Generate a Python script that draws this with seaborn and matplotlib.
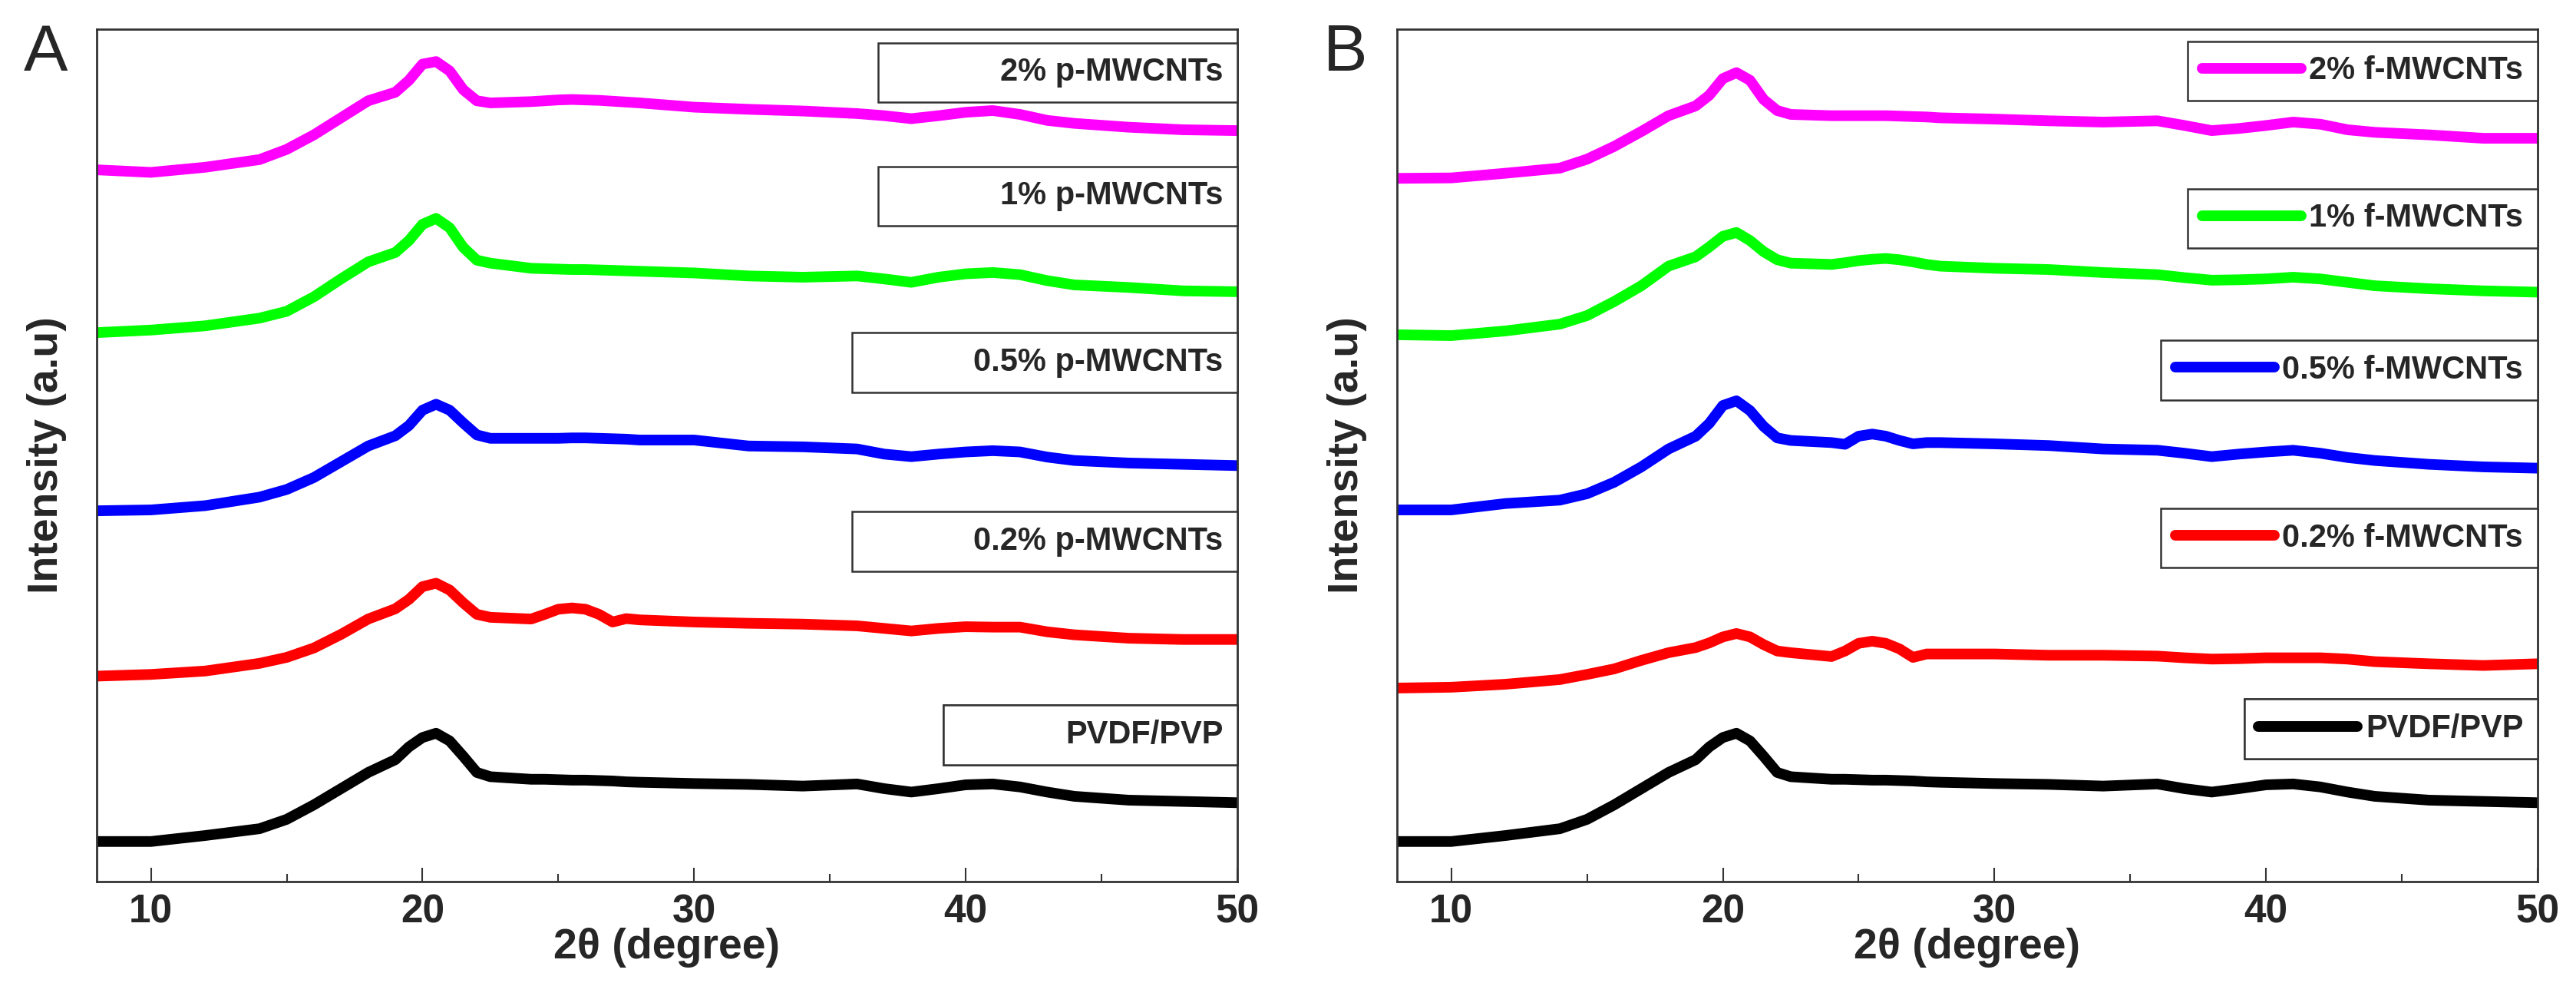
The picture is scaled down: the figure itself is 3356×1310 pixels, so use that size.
import matplotlib
matplotlib.use("Agg")
import matplotlib.pyplot as plt
import matplotlib.colors as mcolors
from matplotlib.ticker import MultipleLocator
import seaborn as sns
import pandas as pd

# 2theta grid shared by all scans
THETA = [8, 10, 12, 14, 15, 16, 17, 18, 19, 19.5, 20, 20.5, 21, 21.5, 22, 22.5,
         24, 24.5, 25, 25.5, 26, 26.5, 27, 27.5, 28, 30, 32, 34, 36, 37, 38, 39,
         40, 41, 42, 43, 44, 46, 48, 50]

# stacked intensities (a.u.)
PVDF_PVP = [4.7, 4.7, 5.4, 6.2, 7.3, 9.0, 10.9, 12.8, 14.3, 15.8, 16.9, 17.4, 16.5, 14.7, 12.8, 12.3,
            12.0, 12.0, 11.95, 11.9, 11.9, 11.85, 11.8, 11.7, 11.65, 11.5, 11.4, 11.2, 11.45, 10.9, 10.5, 10.9,
            11.35, 11.45, 11.1, 10.5, 10.0, 9.55, 9.4, 9.25]

P_02 = [24.1, 24.3, 24.7, 25.6, 26.3, 27.4, 29.0, 30.8, 32.0, 33.1, 34.6, 35.0, 34.2, 32.7, 31.35, 31.0,
        30.8, 31.35, 31.95, 32.1, 31.95, 31.35, 30.45, 30.85, 30.7, 30.45, 30.3, 30.2, 30.0, 29.7, 29.4, 29.7,
        29.9, 29.85, 29.85, 29.3, 28.95, 28.55, 28.4, 28.4]
P_05 = [43.5, 43.6, 44.1, 45.1, 46.0, 47.4, 49.25, 51.1, 52.3, 53.5, 55.3, 56.0, 55.3, 53.8, 52.4, 52.0,
        52.0, 52.0, 52.0, 52.05, 52.05, 52.0, 51.95, 51.9, 51.8, 51.8, 51.1, 51.0, 50.75, 50.15, 49.85, 50.15,
        50.4, 50.55, 50.4, 49.8, 49.4, 49.1, 48.95, 48.8]
P_1 = [64.4, 64.7, 65.2, 66.1, 66.9, 68.6, 70.7, 72.7, 73.8, 75.2, 77.1, 77.8, 76.7, 74.4, 72.9, 72.55,
       71.95, 71.9, 71.85, 71.8, 71.8, 71.75, 71.7, 71.65, 71.6, 71.4, 71.05, 70.9, 71.05, 70.7, 70.3, 70.9,
       71.3, 71.45, 71.2, 70.5, 70.0, 69.7, 69.3, 69.2]
P_2 = [83.5, 83.2, 83.8, 84.7, 85.9, 87.6, 89.6, 91.6, 92.6, 94.0, 95.9, 96.2, 95.1, 92.9, 91.6, 91.35,
       91.5, 91.6, 91.7, 91.75, 91.7, 91.65, 91.55, 91.45, 91.35, 90.85, 90.6, 90.4, 90.1, 89.85, 89.5, 89.85,
       90.25, 90.45, 90.0, 89.3, 88.95, 88.5, 88.2, 88.1]

F_02 = [22.7, 22.8, 23.15, 23.7, 24.3, 24.95, 25.95, 26.85, 27.45, 28.0, 28.7, 29.1, 28.7, 27.8, 27.05, 26.85,
        26.4, 27.05, 27.95, 28.2, 27.95, 27.3, 26.3, 26.7, 26.7, 26.7, 26.55, 26.55, 26.45, 26.25, 26.1, 26.15,
        26.25, 26.25, 26.25, 26.1, 25.8, 25.55, 25.35, 25.55]
F_05 = [43.6, 43.6, 44.35, 44.75, 45.5, 46.85, 48.65, 50.75, 52.25, 53.75, 55.85, 56.4, 55.25, 53.4, 52.05, 51.75,
        51.5, 51.3, 52.25, 52.5, 52.25, 51.75, 51.35, 51.5, 51.5, 51.35, 51.15, 50.75, 50.6, 50.25, 49.85, 50.15,
        50.4, 50.6, 50.25, 49.75, 49.4, 48.95, 48.65, 48.5]
F_1 = [64.15, 64.05, 64.6, 65.4, 66.4, 68.05, 69.9, 72.2, 73.3, 74.45, 75.7, 76.15, 75.2, 73.9, 72.95, 72.55,
       72.4, 72.6, 72.85, 73.0, 73.1, 72.95, 72.7, 72.4, 72.2, 71.95, 71.8, 71.45, 71.2, 70.85, 70.55, 70.6,
       70.7, 70.9, 70.7, 70.3, 69.9, 69.55, 69.3, 69.15]
F_2 = [82.5, 82.55, 83.1, 83.7, 84.75, 86.25, 88.0, 89.85, 91.0, 92.25, 94.2, 94.9, 94.0, 91.75, 90.45, 90.0,
       89.85, 89.85, 89.85, 89.85, 89.85, 89.8, 89.75, 89.7, 89.6, 89.45, 89.25, 89.1, 89.25, 88.7, 88.1, 88.35,
       88.7, 89.1, 88.85, 88.2, 87.9, 87.6, 87.2, 87.2]

LABELS_A = ["2% p-MWCNTs", "1% p-MWCNTs", "0.5% p-MWCNTs", "0.2% p-MWCNTs", "PVDF/PVP"]
LABELS_B = ["2% f-MWCNTs", "1% f-MWCNTs", "0.5% f-MWCNTs", "0.2% f-MWCNTs", "PVDF/PVP"]
COLORS = ["#ff00ff", "#00ff00", "#0000ff", "#ff0000", "#000000"]

sns.set_style("white")
plt.rcParams["font.family"] = ["Liberation Sans", "DejaVu Sans"]

SPINE = "#333333"


def draw_panel(ax, series, labels, legend_tops, show_handles):
    df = pd.DataFrame({
        "theta": THETA * len(series),
        "intensity": [v for s in series for v in s],
        "sample": [lab for lab in labels for _ in THETA],
    })
    sns.lineplot(data=df, x="theta", y="intensity", hue="sample", hue_order=labels,
                 palette=dict(zip(labels, COLORS)), lw=10, legend=False,
                 errorbar=None, ax=ax)

    ax.set_xlim(8, 50)
    ax.set_ylim(0, 100)
    ax.set_yticks([])
    ax.xaxis.set_major_locator(MultipleLocator(10))
    ax.xaxis.set_minor_locator(MultipleLocator(5))
    ax.tick_params(axis="x", which="major", direction="in", length=13, width=1.5,
                   color=SPINE, labelsize=37, pad=11, bottom=True, top=False)
    ax.tick_params(axis="x", which="minor", direction="in", length=7, width=1.5,
                   color=SPINE, bottom=True, top=False)
    for t in ax.get_xticklabels():
        t.set_fontweight("bold")
    for sp in ax.spines.values():
        sp.set_visible(True)
        sp.set_color(SPINE)
        sp.set_linewidth(2)

    ax.set_xlabel("2θ (degree)", fontsize=40, fontweight="bold", labelpad=-3)
    ax.set_ylabel("Intensity (a.u)", fontsize=40, fontweight="bold", labelpad=28)

    # one boxed legend per scan, sitting above its curve
    by_color = {mcolors.to_hex(ln.get_color()): ln for ln in ax.lines}
    for lab, col, top in zip(labels, COLORS, legend_tops):
        ln = by_color[col]
        leg = ax.legend([ln], [lab], loc="upper right", bbox_to_anchor=(1.0, top),
                        bbox_transform=ax.transAxes, borderaxespad=0, frameon=True,
                        fancybox=False, framealpha=1, edgecolor=SPINE,
                        prop={"weight": "bold", "size": 30},
                        handlelength=3.1, handletextpad=0.25, borderpad=0.45)
        leg.get_frame().set_linewidth(1.8)
        if not show_handles:
            for h in leg.legend_handles:
                h.set_visible(False)
        ax.add_artist(leg)


fig = plt.figure(figsize=(33.56, 13.10), dpi=100)
ax_a = fig.add_axes([0.0375, 0.1237, 0.4428, 0.8473])
ax_b = fig.add_axes([0.5423, 0.1237, 0.4428, 0.8473])

draw_panel(ax_a, [P_2, P_1, P_05, P_02, PVDF_PVP], LABELS_A,
           [0.984, 0.839, 0.644, 0.434, 0.207], show_handles=False)
draw_panel(ax_b, [F_2, F_1, F_05, F_02, PVDF_PVP], LABELS_B,
           [0.986, 0.813, 0.635, 0.438, 0.214], show_handles=True)

fig.text(60 / 3356, 1 - 70 / 1310, "A", fontsize=62, ha="center", va="center")
fig.text(1753 / 3356, 1 - 70 / 1310, "B", fontsize=62, ha="center", va="center")

fig.savefig("out.png", dpi=100)
